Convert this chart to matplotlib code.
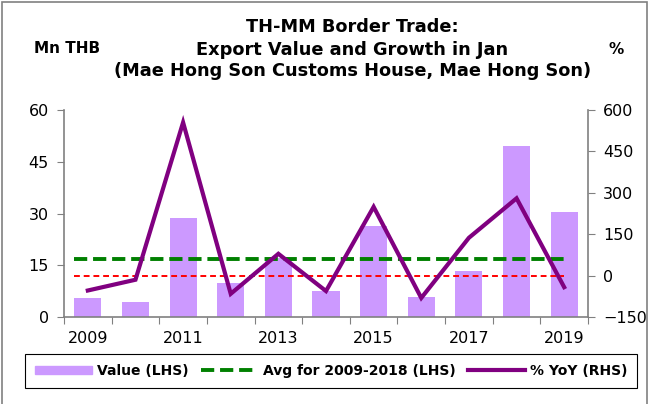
import numpy as np
import matplotlib.pyplot as plt
from matplotlib.patches import Rectangle
from matplotlib.lines import Line2D

plt.rcParams['font.family'] = ['DejaVu Sans']

years = [2009, 2010, 2011, 2012, 2013, 2014, 2015, 2016, 2017, 2018, 2019]
value = [5.4, 4.4, 28.8, 9.8, 17.2, 7.6, 26.5, 5.8, 13.4, 49.7, 30.3]  # Mn THB
yoy = [-54, -15, 555, -66, 79, -56, 249, -81, 137, 280, -42]  # %
avg = np.mean(value[:10])  # 2009-2018 average

x = np.arange(len(years))
grey = '#808080'

fig = plt.figure(figsize=(6.49, 4.04), dpi=100)
ax = fig.add_axes([64/649, 1-317/404, 524/649, 207/404])
ax2 = ax.twinx()

ax.bar(x, value, width=0.57, color='#CC99FF', zorder=2)
ax.hlines(avg, x[0]-0.3, x[-1], colors='#008000', linestyles=(0, (3.4, 1.5)), lw=2.8, zorder=3)
ax2.hlines(0, x[0]-0.3, x[-1], colors='#FF0000', linestyles=(0, (3, 2)), lw=1.4)
ax2.plot(x, yoy, color='#800080', lw=3.0, solid_joinstyle='miter')

ax.set_xlim(-0.5, len(years)-0.5)
ax.set_ylim(0, 60)
ax.set_yticks([0, 15, 30, 45, 60])
ax2.set_ylim(-150, 600)
ax2.set_yticks([-150, 0, 150, 300, 450, 600])

# tick marks between categories, labels every other year
ax.set_xticks(np.arange(-0.5, len(years)), labels=[])
ax.set_xticks(x[::2], labels=[str(y) for y in years[::2]], minor=True)
ax.tick_params(axis='x', which='major', length=5, color=grey, direction='out')
ax.tick_params(axis='x', which='minor', length=0, labelsize=11.5, pad=10)
ax.tick_params(axis='y', length=5, color=grey, labelsize=11.5, pad=6)
ax2.tick_params(axis='y', length=5, color=grey, labelsize=11.5, pad=6)

for a in (ax, ax2):
    a.spines['top'].set_visible(False)
    for s in ('left', 'right', 'bottom'):
        a.spines[s].set_color(grey)
        a.spines[s].set_linewidth(1.2)
ax.spines['right'].set_visible(False)
ax2.spines['left'].set_visible(False)
ax2.spines['bottom'].set_visible(False)

title_kw = dict(ha='center', va='center', fontsize=12.8, fontweight='bold')
fig.text(0.543, 0.934, 'TH-MM Border Trade:', **title_kw)
fig.text(0.543, 0.877, 'Export Value and Growth in Jan', **title_kw)
fig.text(0.543, 0.824, '(Mae Hong Son Customs House, Mae Hong Son)', **title_kw)
fig.text(0.104, 0.879, 'Mn THB', ha='center', va='center', fontsize=11, fontweight='bold')
fig.text(0.949, 0.877, '%', ha='center', va='center', fontsize=11, fontweight='bold')

handles = [Rectangle((0, 0), 1, 1, color='#CC99FF'),
           Line2D([], [], color='#008000', lw=2.8, ls=(0, (3.4, 1.5))),
           Line2D([], [], color='#800080', lw=3.0)]
leg = fig.legend(handles, ['Value (LHS)', 'Avg for 2009-2018 (LHS)', '% YoY (RHS)'],
                 loc='center', bbox_to_anchor=(331/649, 1-371/404), ncol=3, fancybox=False,
                 edgecolor='black', framealpha=1, prop={'weight': 'bold', 'size': 10},
                 handlelength=4.1, handleheight=0.55, columnspacing=0.9, handletextpad=0.35,
                 borderpad=0.7)
leg.get_frame().set_linewidth(0.8)

fig.patches.append(Rectangle((0.003, -0.05), 0.994, 1.045, transform=fig.transFigure,
                             fill=False, edgecolor=grey, lw=1.2))

fig.savefig('out.png', dpi=100)
